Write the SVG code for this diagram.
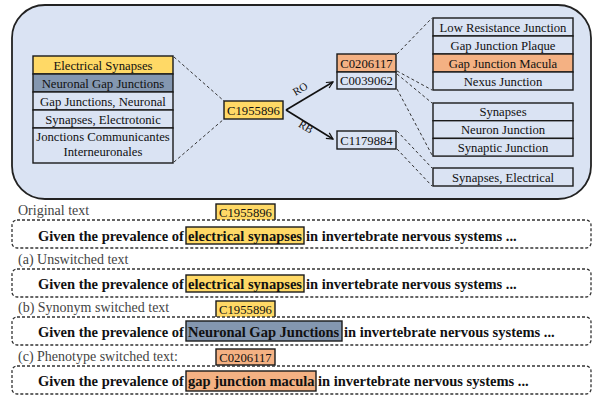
<svg xmlns="http://www.w3.org/2000/svg" width="594" height="396" viewBox="0 0 594 396" font-family="Liberation Serif, Times New Roman, DejaVu Serif, serif">
<defs>
<style>
.t{font-size:12.7px;fill:#111;text-anchor:middle}
.lb{font-size:14px;fill:#444}
.b{font-size:14.5px;font-weight:bold;fill:#111}
.cell{fill:#DAE3F3;stroke:#1a1a1a;stroke-width:1.4}
.y{fill:#FFD966}
.s{fill:#8497B0}
.o{fill:#F4B183}
.dash{stroke:#333;stroke-width:1;stroke-dasharray:3,2.5;fill:none}
.sent{fill:#fff;stroke:#333;stroke-width:1.3;stroke-dasharray:3,2;}
.hl{stroke:#1a1a1a;stroke-width:1.4}
</style>
<marker id="ah" viewBox="0 0 10 10" refX="9" refY="5" markerWidth="8" markerHeight="8" orient="auto" markerUnits="userSpaceOnUse">
<path d="M1,1 L9,5 L1,9" fill="none" stroke="#111" stroke-width="1.5"/>
</marker>
</defs>
<rect width="594" height="396" fill="#fff"/>
<rect x="12" y="5" width="579" height="194" rx="33" fill="#DAE3F3" stroke="#222" stroke-width="1.8"/>

<g id="connectors">
<line class="dash" x1="174" y1="57" x2="224" y2="101"/>
<line class="dash" x1="174" y1="162" x2="224" y2="119"/>
<line class="dash" x1="397" y1="54" x2="432" y2="18"/>
<line class="dash" x1="397" y1="71" x2="432" y2="90"/>
<line class="dash" x1="397" y1="74" x2="432" y2="103"/>
<line class="dash" x1="397" y1="89" x2="432" y2="155"/>
<line class="dash" x1="397" y1="131" x2="432" y2="168"/>
<line class="dash" x1="397" y1="149" x2="432" y2="186"/>
<line x1="286" y1="110" x2="333" y2="82" stroke="#111" stroke-width="1.6" marker-end="url(#ah)"/>
<line x1="286" y1="110" x2="333" y2="139" stroke="#111" stroke-width="1.6" marker-end="url(#ah)"/>
<text class="t" transform="translate(302,92) rotate(-31)" style="font-size:11px">RO</text>
<text class="t" transform="translate(304,130) rotate(31)" style="font-size:11px">RB</text>
</g>

<g id="synonyms-left">
<rect class="cell y" x="33" y="56" width="140" height="18"/>
<rect class="cell s" x="33" y="74" width="140" height="18"/>
<rect class="cell" x="33" y="92" width="140" height="18"/>
<rect class="cell" x="33" y="110" width="140" height="18"/>
<rect class="cell" x="33" y="128" width="140" height="35"/>
<text class="t" x="103" y="69.5">Electrical Synapses</text>
<text class="t" x="103" y="87.5">Neuronal Gap Junctions</text>
<text class="t" x="103" y="105.5">Gap Junctions, Neuronal</text>
<text class="t" x="103" y="123.5">Synapses, Electrotonic</text>
<text class="t" x="103" y="141">Jonctions Communicantes</text>
<text class="t" x="103" y="156">Interneuronales</text>
</g>

<g id="c1955896">
<rect class="cell y" x="224" y="101" width="59" height="18"/>
<text class="t" x="253.5" y="114.5">C1955896</text>
</g>

<g id="c0206117">
<rect class="cell o" x="337" y="54" width="59" height="18"/>
<text class="t" x="366.5" y="67.5">C0206117</text>
</g>
<g id="c0039062">
<rect class="cell" x="337" y="72" width="59" height="17"/>
<text class="t" x="366.5" y="85">C0039062</text>
</g>
<g id="c1179884">
<rect class="cell" x="337" y="131" width="59" height="18"/>
<text class="t" x="366.5" y="144.5">C1179884</text>
</g>

<g id="list1">
<rect class="cell" x="433" y="18" width="140" height="18"/>
<rect class="cell" x="433" y="36" width="140" height="18"/>
<rect class="cell o" x="433" y="54" width="140" height="18"/>
<rect class="cell" x="433" y="72" width="140" height="18"/>
<text class="t" x="503" y="31.5">Low Resistance Junction</text>
<text class="t" x="503" y="49.5">Gap Junction Plaque</text>
<text class="t" x="503" y="67.5">Gap Junction Macula</text>
<text class="t" x="503" y="85.5">Nexus Junction</text>
</g>
<g id="list2">
<rect class="cell" x="433" y="103" width="140" height="17.7"/>
<rect class="cell" x="433" y="120.7" width="140" height="17.7"/>
<rect class="cell" x="433" y="138.4" width="140" height="17.7"/>
<text class="t" x="503" y="116.3">Synapses</text>
<text class="t" x="503" y="134">Neuron Junction</text>
<text class="t" x="503" y="151.7">Synaptic Junction</text>
</g>
<g id="list3">
<rect class="cell" x="433" y="168" width="140" height="18"/>
<text class="t" x="503" y="181.5">Synapses, Electrical</text>
</g>

<g id="original">
<text class="lb" x="18" y="215">Original text</text>
<rect class="cell y" x="216" y="204" width="59" height="17"/>
<text class="t" x="245.5" y="217">C1955896</text>
<rect class="sent" x="12" y="220" width="579" height="28" rx="5"/>
<rect class="hl y" x="186" y="227" width="118" height="17"/>
<text class="b" x="38" y="240.5">Given the prevalence of <tspan x="188">electrical synapses</tspan><tspan x="306">in invertebrate nervous systems ...</tspan></text>
</g>

<g id="unswitched">
<text class="lb" x="18" y="264">(a) Unswitched text</text>
<rect class="sent" x="12" y="269" width="579" height="28" rx="5"/>
<rect class="hl y" x="186" y="275" width="118" height="17"/>
<text class="b" x="38" y="288.5">Given the prevalence of <tspan x="188">electrical synapses</tspan><tspan x="306">in invertebrate nervous systems ...</tspan></text>
</g>

<g id="synonym">
<text class="lb" x="18" y="312">(b) Synonym switched text</text>
<rect class="cell y" x="216" y="301" width="59" height="17"/>
<text class="t" x="245.5" y="314">C1955896</text>
<rect class="sent" x="12" y="317" width="579" height="28" rx="5"/>
<rect class="hl s" x="186" y="321" width="156" height="20"/>
<text class="b" x="38" y="336.5">Given the prevalence of <tspan x="188">Neuronal Gap Junctions</tspan><tspan x="344">in invertebrate nervous systems ...</tspan></text>
</g>

<g id="phenotype">
<text class="lb" x="18" y="361">(c) Phenotype switched text:</text>
<rect class="cell o" x="216" y="349" width="59" height="16"/>
<text class="t" x="245.5" y="361.5">C0206117</text>
<rect class="sent" x="12" y="366" width="579" height="28" rx="5"/>
<rect class="hl o" x="186" y="371" width="130" height="20"/>
<text class="b" x="38" y="385.5">Given the prevalence of <tspan x="188">gap junction macula</tspan><tspan x="318">in invertebrate nervous systems ...</tspan></text>
</g>
</svg>
